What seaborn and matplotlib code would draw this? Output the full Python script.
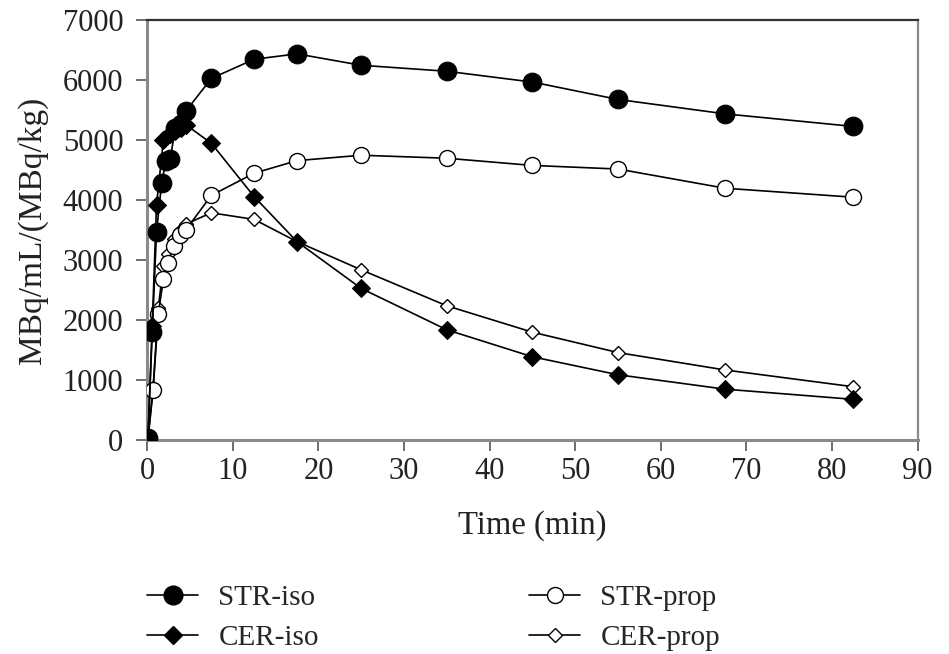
import matplotlib
matplotlib.use("Agg")
import matplotlib.pyplot as plt
import seaborn as sns
import pandas as pd
from matplotlib.lines import Line2D

# ---- data ----
str_iso_t = [0.1, 0.6, 1.1, 1.7, 2.2, 2.7, 3.3, 4.0, 4.5, 7.5, 12.5, 17.5, 25, 35, 45, 55, 67.5, 82.5]
str_iso_v = [30, 1800, 3470, 4290, 4660, 4690, 5200, 5270, 5480, 6030, 6350, 6440, 6250, 6150, 5970, 5680, 5440, 5230]

cer_iso_t = [0.1, 0.6, 1.1, 1.9, 2.7, 3.3, 4.0, 4.6, 7.5, 12.5, 17.5, 25, 35, 45, 55, 67.5, 82.5]
cer_iso_v = [30, 1900, 3920, 5000, 5100, 5150, 5200, 5250, 4950, 4060, 3310, 2530, 1840, 1390, 1090, 850, 680]

str_prop_t = [0.1, 0.7, 1.3, 1.9, 2.4, 3.1, 3.8, 4.5, 7.5, 12.5, 17.5, 25, 35, 45, 55, 67.5, 82.5]
str_prop_v = [20, 830, 2100, 2680, 2950, 3230, 3420, 3500, 4080, 4450, 4660, 4750, 4700, 4580, 4520, 4200, 4050]

cer_prop_t = [0.1, 0.7, 1.3, 1.9, 2.4, 3.1, 3.8, 4.5, 7.5, 12.5, 17.5, 25, 35, 45, 55, 67.5, 82.5]
cer_prop_v = [20, 870, 2200, 2900, 3100, 3350, 3480, 3600, 3790, 3680, 3310, 2840, 2240, 1800, 1460, 1170, 890]

series_names = ["STR-iso", "CER-iso", "STR-prop", "CER-prop"]
x_ticks = [0, 10, 20, 30, 40, 50, 60, 70, 80, 90]
y_ticks = [0, 1000, 2000, 3000, 4000, 5000, 6000, 7000]
x_label = "Time (min)"
y_label = "MBq/mL/(MBq/kg)"

sns.set_theme(style="white")
plt.rcParams["font.family"] = ["Liberation Serif", "DejaVu Serif"]

fig = plt.figure(figsize=(9.49, 6.54), dpi=100)
ax = fig.add_axes([0.155, 0.327, 0.812, 0.642])

styles = {
    "STR-iso": dict(marker="o", markersize=13.5, markerfacecolor="black", markeredgecolor="black"),
    "CER-iso": dict(marker="D", markersize=9, markerfacecolor="black", markeredgecolor="black"),
    "STR-prop": dict(marker="o", markersize=11.5, markerfacecolor="white", markeredgecolor="black", markeredgewidth=1.0),
    "CER-prop": dict(marker="D", markersize=7.5, markerfacecolor="white", markeredgecolor="black", markeredgewidth=1.0),
}
data = {
    "STR-iso": (str_iso_t, str_iso_v),
    "CER-iso": (cer_iso_t, cer_iso_v),
    "STR-prop": (str_prop_t, str_prop_v),
    "CER-prop": (cer_prop_t, cer_prop_v),
}
zorders = {"STR-iso": 5, "CER-iso": 4, "STR-prop": 3, "CER-prop": 3}

for name in ["CER-prop", "STR-prop", "CER-iso", "STR-iso"]:
    t, v = data[name]
    df = pd.DataFrame({"t": t, "v": v})
    sns.lineplot(data=df, x="t", y="v", ax=ax, color="black", linewidth=1.2,
                 sort=False, estimator=None, zorder=zorders[name], **styles[name])

ax.set_xlim(0, 90)
ax.set_ylim(0, 7000)
ax.set_xticks(x_ticks)
ax.set_yticks(y_ticks)
ax.tick_params(axis="both", labelsize=22, length=8, width=1.2, color="#555555",
               direction="out", bottom=True, left=True)
ax.tick_params(axis="y", pad=9)
ax.tick_params(axis="x", pad=4)
for lab in ax.get_xticklabels() + ax.get_yticklabels():
    lab.set_color("#222222")

ax.set_xlabel(x_label, fontsize=23.5, color="#222222", va="top")
ax.xaxis.set_label_coords(0.5, -0.168)
ax.set_ylabel(y_label, fontsize=24, color="#222222")
ax.yaxis.set_label_coords(-0.128, 0.5)

for side in ["left", "bottom"]:
    ax.spines[side].set_color("#8a8a8a")
    ax.spines[side].set_linewidth(2.2)
ax.spines["top"].set_color("#333333")
ax.spines["top"].set_linewidth(1.6)
ax.spines["right"].set_color("#8a8a8a")
ax.spines["right"].set_linewidth(1.6)
ax.grid(False)

handles = []
for name in series_names:
    st = dict(styles[name])
    handles.append(Line2D([], [], color="black", linewidth=1.2, **st))

leg_kw = dict(loc="center left", frameon=False, fontsize=21, handlelength=1.75,
              handletextpad=0.7, labelspacing=0.45, borderpad=0, borderaxespad=0)
leg1 = fig.legend(handles[:2], series_names[:2], bbox_to_anchor=(147 / 949, 0.055), **leg_kw)
leg2 = fig.legend(handles[2:], series_names[2:], bbox_to_anchor=(529 / 949, 0.055), **leg_kw)

fig.savefig("out.png", dpi=100)
